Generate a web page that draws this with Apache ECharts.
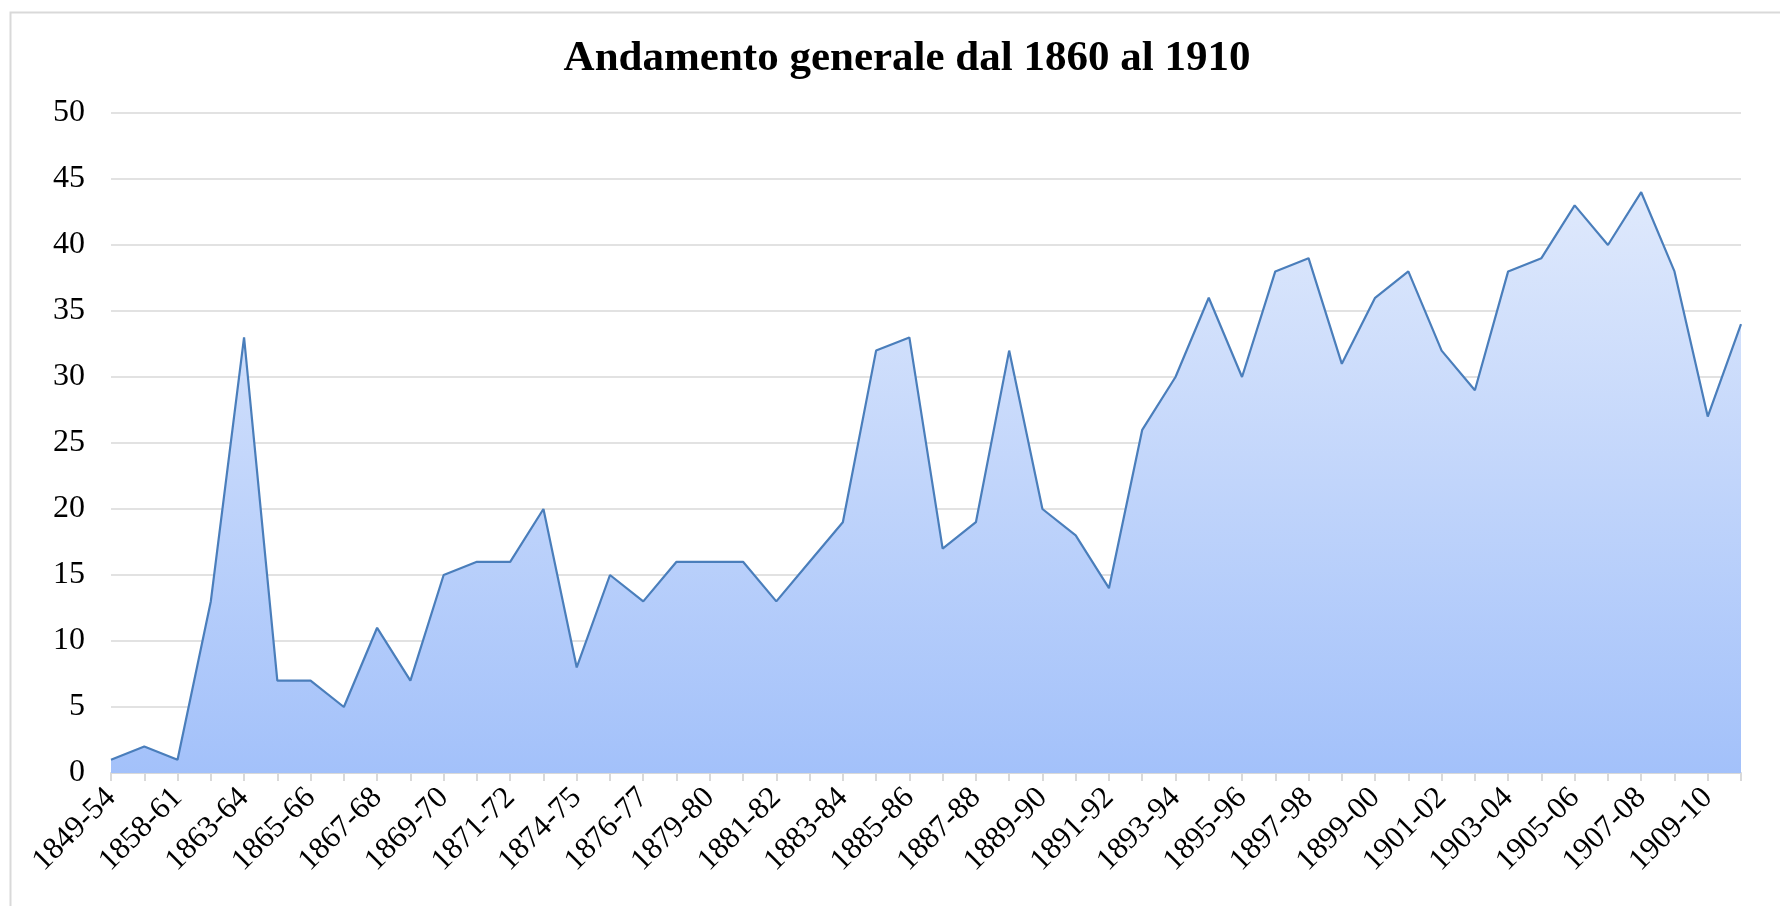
<!DOCTYPE html>
<html>
<head>
<meta charset="utf-8">
<script src="https://cdn.jsdelivr.net/npm/echarts@6/dist/echarts.min.js"></script>
<style>
  html, body { margin: 0; padding: 0; background: #fff; }
  #chart { width: 1780px; height: 906px; }
</style>
</head>
<body>
<div id="chart"></div>
<script>
// periods (only every other one is labelled in the original)
const periods = [
  '1849-54', '1855-57', '1858-61', '1862-63', '1863-64', '1864-65', '1865-66', '1866-67',
  '1867-68', '1868-69', '1869-70', '1870-71', '1871-72', '1872-74', '1874-75', '1875-76',
  '1876-77', '1877-79', '1879-80', '1880-81', '1881-82', '1882-83', '1883-84', '1884-85',
  '1885-86', '1886-87', '1887-88', '1888-89', '1889-90', '1890-91', '1891-92', '1892-93',
  '1893-94', '1894-95', '1895-96', '1896-97', '1897-98', '1898-99', '1899-00', '1900-01',
  '1901-02', '1902-03', '1903-04', '1904-05', '1905-06', '1906-07', '1907-08', '1908-09',
  '1909-10', '1910-11'
]
const values = [
  1, 2, 1, 13, 33, 7, 7, 5, 11, 7,
  15, 16, 16, 20, 8, 15, 13, 16, 16, 16,
  13, 16, 19, 32, 33, 17, 19, 32, 20, 18,
  14, 26, 30, 36, 30, 38, 39, 31, 36, 38,
  32, 29, 38, 39, 43, 40, 44, 38, 27, 34
]
const yTicks = [0, 5, 10, 15, 20, 25, 30, 35, 40, 45, 50]

const chart = echarts.init(document.getElementById('chart'))
const serif = '"Liberation Serif", "DejaVu Serif", serif'

const option = {
  animation: false,
  graphic: [
    {
      type: 'rect',
      left: 8,
      top: 10,
      shape: { width: 1800, height: 1000 },
      style: { fill: 'none', stroke: '#d9d9d9', lineWidth: 2 }
    }
  ],
  title: {
    text: 'Andamento generale dal 1860 al 1910',
    left: 902,
    top: 32,
    textAlign: 'center',
    textStyle: {
      fontFamily: serif,
      fontWeight: 'bold',
      fontSize: 43,
      color: '#000'
    }
  },
  grid: {
    left: 111,
    right: 39,
    top: 113,
    bottom: 133
  },
  xAxis: {
    type: 'category',
    data: periods,
    boundaryGap: false,
    axisLine: { show: true, lineStyle: { color: '#d9d9d9', width: 2 } },
    axisTick: { show: true, interval: 0, length: 8, lineStyle: { color: '#d9d9d9', width: 2 } },
    axisLabel: {
      interval: 1,
      rotate: 45,
      margin: 20,
      fontFamily: serif,
      fontSize: 31,
      color: '#000'
    },
    splitLine: { show: false }
  },
  yAxis: {
    type: 'value',
    min: yTicks[0],
    max: yTicks[yTicks.length - 1],
    interval: yTicks[1] - yTicks[0],
    axisLine: { show: false },
    axisTick: { show: false },
    axisLabel: {
      margin: 26,
      fontFamily: serif,
      fontSize: 32,
      color: '#000'
    },
    splitLine: { show: true, lineStyle: { color: '#d9d9d9', width: 1.5 } }
  },
  series: [
    {
      type: 'line',
      data: values,
      symbol: 'none',
      lineStyle: { color: '#4a7ebb', width: 2.2 },
      areaStyle: {
        opacity: 1,
        color: new echarts.graphic.LinearGradient(0, 0, 0, 1, [
          { offset: 0, color: '#dfe9fc' },
          { offset: 1, color: '#a3c1fa' }
        ])
      }
    }
  ]
}
chart.setOption(option)
</script>
</body>
</html>
